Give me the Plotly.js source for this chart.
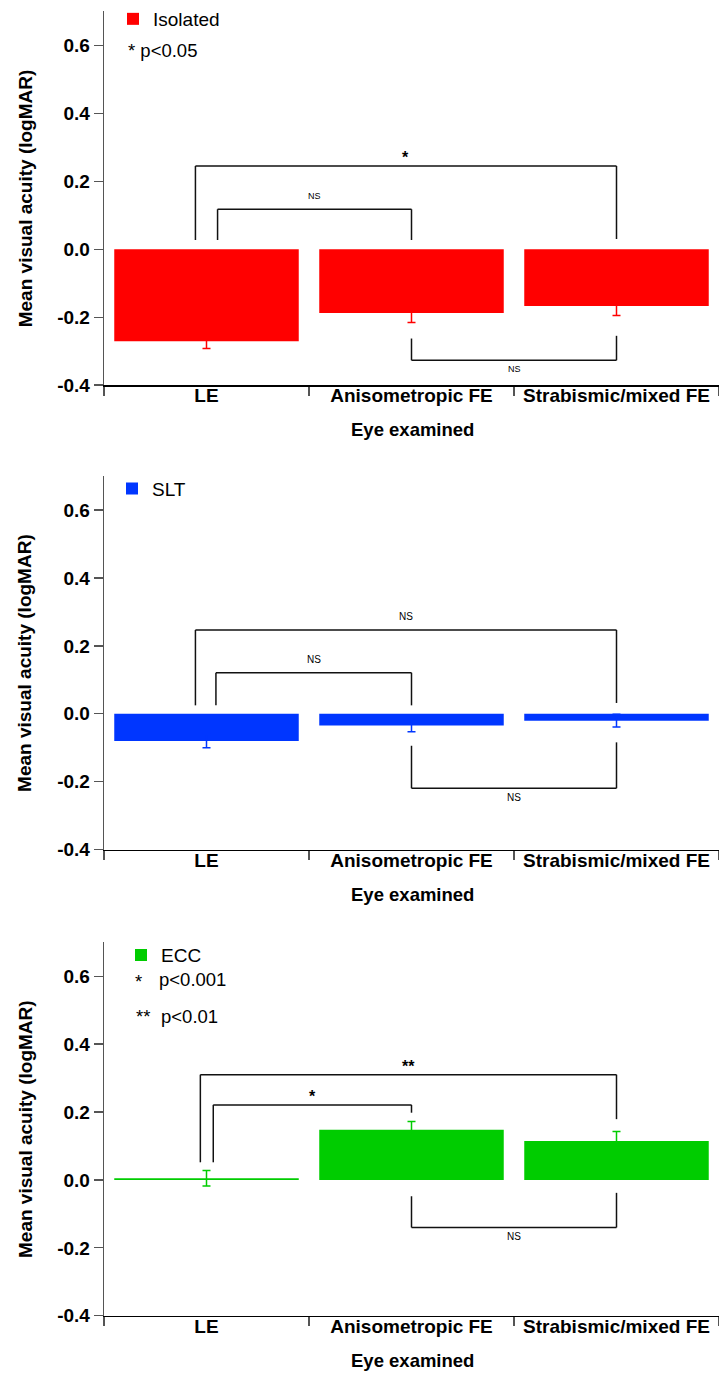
<!DOCTYPE html>
<html>
<head>
<meta charset="utf-8">
<script src="https://cdn.plot.ly/plotly-3.0.1.min.js"></script>
<style>
  html, body { margin: 0; padding: 0; background: #fff; overflow: hidden; }
  #chart { width: 719px; height: 1373px; }
</style>
</head>
<body>
<div id="chart"></div>
<script>
// Mean visual acuity per eye group, three amblyopia subgroups
const categories = ['LE', 'Anisometropic FE', 'Strabismic/mixed FE'];

const isolatedMean = [-0.271, -0.188, -0.167];
const isolatedErr  = [0.021, 0.028, 0.028];

const sltMean = [-0.080, -0.034, -0.020];
const sltErr  = [0.020, 0.019, 0.019];

const eccMean = [0.005, 0.148, 0.115];
const eccErr  = [0.0225, 0.024, 0.028];

const yTickVals = [-0.4, -0.2, 0, 0.2, 0.4, 0.6];
const yTickText = ['-0.4', '-0.2', '0.0', '0.2', '0.4', '0.6'];

// Pairwise comparisons: category indices, bracket level, foot ends, label
const isolatedTests = [
  { a: 0, b: 2, level: 0.245, feet: [0.027, 0.030], label: '*' },
  { a: 0, b: 1, level: 0.118, feet: [0.027, 0.027], label: 'NS' },
  { a: 1, b: 2, level: -0.327, feet: [-0.263, -0.255], label: 'NS' }
];
const sltTests = [
  { a: 0, b: 2, level: 0.247, feet: [0.025, 0.032], label: 'NS' },
  { a: 0, b: 1, level: 0.121, feet: [0.025, 0.025], label: 'NS' },
  { a: 1, b: 2, level: -0.219, feet: [-0.094, -0.084], label: 'NS' }
];
const eccTests = [
  { a: 0, b: 2, level: 0.310, feet: [0.052, 0.179], label: '**' },
  { a: 0, b: 1, level: 0.221, feet: [0.052, 0.198], label: '*' },
  { a: 1, b: 2, level: -0.140, feet: [-0.048, -0.038], label: 'NS' }
];

const FONT = 'Liberation Sans, Arial, Helvetica, sans-serif';
const H = 1373, W = 719, L = 104;
const plotW = W - L;
const yPaper = p => (H - p) / H;
const xPaper = p => (p - L) / plotW;

const panels = [
  { name: 'Isolated', mean: isolatedMean, err: isolatedErr, color: '#ff0000',
    tests: isolatedTests, bottom: 380, legendX: 113, legendY: 12,
    outerOff: 0.054, innerOff: 0.054, nsSize: 9,
    notes: [{ text: '* p<0.05', x: 126, y: 44 }] },
  { name: 'SLT', mean: sltMean, err: sltErr, color: '#0036ff',
    tests: sltTests, bottom: 847, legendX: 112, legendY: 484,
    outerOff: 0.054, innerOff: 0.046, nsSize: 10,
    notes: [] },
  { name: 'ECC', mean: eccMean, err: eccErr, color: '#00cc00',
    tests: eccTests, bottom: 1315.5, legendX: 121, legendY: 953,
    outerOff: 0.03, innerOff: 0.033, nsSize: 10,
    notes: [
      { text: '*', x: 133, y: 979 },
      { text: 'p<0.001', x: 157, y: 977 },
      { text: '**', x: 134, y: 1015 },
      { text: 'p<0.01', x: 159, y: 1015 }
    ] }
];
const PANEL_H = 375.5;

const traces = [];
const shapes = [];
const annotations = [];
const layout = {
  width: W, height: H,
  margin: { l: L, r: 0, t: 0, b: 0 },
  paper_bgcolor: '#fff', plot_bgcolor: '#fff',
  font: { family: FONT, color: '#000' },
  hovermode: false,
  bargap: 0.1
};

panels.forEach((p, i) => {
  const n = i === 0 ? '' : String(i + 1);
  const xa = 'x' + n, ya = 'y' + n;
  const legendId = 'legend' + n;

  traces.push({
    type: 'bar',
    x: categories, y: p.mean,
    xaxis: xa, yaxis: ya,
    name: p.name,
    legend: legendId,
    showlegend: true,
    width: 0.9,
    marker: { color: p.color, line: { width: 0 } },
    error_y: { type: 'data', array: p.err, visible: true,
               color: p.color, thickness: 1.5, width: 4 }
  });

  layout['xaxis' + n] = {
    domain: [0, 1], anchor: ya, type: 'category',
    categoryorder: 'array', categoryarray: categories,
    range: [-0.5, 2.5], fixedrange: true,
    tickson: 'boundaries', ticks: 'outside', ticklen: 9, tickwidth: 1.2, tickcolor: '#555',
    ticklabelstandoff: -7,
    showline: true, linecolor: '#000', linewidth: 1.5,
    showgrid: false, zeroline: false, automargin: false,
    tickfont: { family: FONT, size: 19, weight: 'bold', color: '#000' }
  };
  layout['yaxis' + n] = {
    domain: [yPaper(p.bottom), yPaper(p.bottom - PANEL_H)],
    anchor: xa, range: [-0.4, 0.7], fixedrange: true,
    tickmode: 'array', tickvals: yTickVals, ticktext: yTickText,
    ticks: 'outside', ticklen: 9, tickwidth: 1.2, tickcolor: '#555',
    showline: true, linecolor: '#555', linewidth: 1.3,
    showgrid: false, zeroline: false, automargin: false,
    tickfont: { family: FONT, size: 19, weight: 'bold', color: '#000' }
  };
  layout[legendId] = {
    x: xPaper(p.legendX), xanchor: 'left',
    y: yPaper(p.legendY), yanchor: 'middle',
    bgcolor: 'rgba(0,0,0,0)', borderwidth: 0,
    font: { family: FONT, size: 19, color: '#000' }
  };

  // Axis titles
  annotations.push({
    xref: 'paper', yref: 'paper', x: xPaper(25),
    y: yPaper(p.bottom - PANEL_H / 2),
    text: 'Mean visual acuity (logMAR)', textangle: -90, showarrow: false,
    xanchor: 'center', yanchor: 'middle',
    font: { family: FONT, size: 19, weight: 'bold', color: '#000' }
  });
  annotations.push({
    xref: 'paper', yref: 'paper', x: xPaper(412), y: yPaper(p.bottom + 45),
    text: 'Eye examined', showarrow: false, xanchor: 'center', yanchor: 'middle',
    font: { family: FONT, size: 18.5, weight: 'bold', color: '#000' }
  });

  // Significance notes next to the legend
  p.notes.forEach(nt => {
    annotations.push({
      xref: 'paper', yref: 'paper', x: xPaper(nt.x), y: yPaper(nt.y),
      text: nt.text, showarrow: false, xanchor: 'left', yanchor: 'middle',
      font: { family: FONT, size: 18.5, color: '#000' }
    });
  });

  // Comparison brackets
  const line = (x0, y0, x1, y1) => shapes.push({
    type: 'line', xref: xa, yref: ya, x0, y0, x1, y1,
    line: { color: '#111', width: 1.5 }
  });
  p.tests.forEach(t => {
    let xa0 = t.a, xb0 = t.b;
    if (t.a === 0) xa0 = t.b === 2 ? -p.outerOff : p.innerOff;
    line(xa0, t.feet[0], xa0, t.level);
    line(xa0, t.level, xb0, t.level);
    line(xb0, t.level, xb0, t.feet[1]);
    const below = t.level < 0;
    const isNS = t.label === 'NS';
    annotations.push({
      xref: xa, yref: ya, x: (xa0 + xb0) / 2, y: t.level,
      text: t.label, showarrow: false, xanchor: 'center',
      yanchor: below ? 'top' : 'bottom',
      yshift: below ? -2 : (isNS ? 6 : -2),
      font: { family: FONT, size: isNS ? p.nsSize : 16,
              weight: isNS ? 'normal' : 'bold', color: '#000' }
    });
  });
});

layout.shapes = shapes;
layout.annotations = annotations;

Plotly.newPlot('chart', traces, layout, { staticPlot: true, displayModeBar: false });
</script>
</body>
</html>
